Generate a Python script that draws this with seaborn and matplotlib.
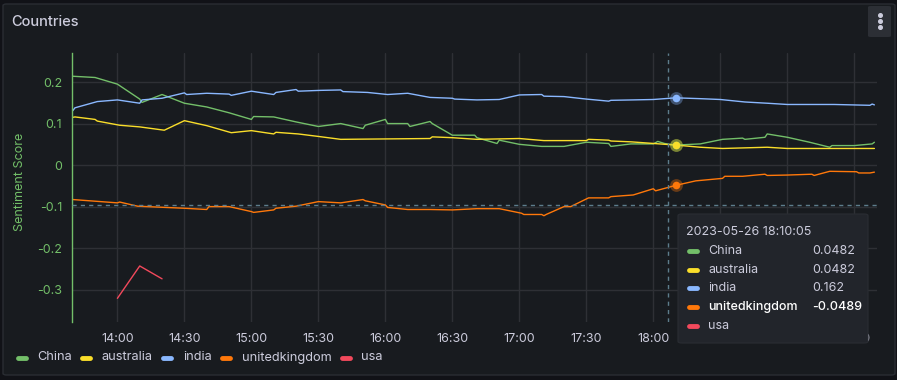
import numpy as np
import pandas as pd
import matplotlib
matplotlib.use("Agg")
import matplotlib.pyplot as plt
import matplotlib.dates as mdates
from matplotlib.patches import FancyBboxPatch
from matplotlib.lines import Line2D
import seaborn as sns

dia = "2023-05-26"
paises = ["China", "australia", "india", "unitedkingdom", "usa"]
colores = ["#73BF69", "#FADE2A", "#8AB8FF", "#FF780A", "#F2495C"]

china_time = ["13:40", "13:50", "14:00", "14:10", "14:11", "14:20", "14:30", "14:40", "14:50", "15:00",
              "15:01", "15:10", "15:20", "15:30", "15:40", "15:50", "15:51", "16:00", "16:01", "16:10",
              "16:11", "16:20", "16:21", "16:30", "16:40", "16:41", "16:50", "16:51", "17:00", "17:10",
              "17:20", "17:30", "17:40", "17:41", "17:50", "18:00", "18:02", "18:05", "18:10", "18:21",
              "18:31", "18:40", "18:41", "18:50", "18:51", "19:00", "19:10", "19:19", "19:20", "19:30",
              "19:38", "19:39"]
china_vals = [0.214, 0.211, 0.195, 0.159, 0.151, 0.170, 0.149, 0.140, 0.126, 0.110,
              0.117, 0.116, 0.104, 0.093, 0.100, 0.088, 0.096, 0.110, 0.100, 0.100,
              0.093, 0.105, 0.100, 0.072, 0.072, 0.066, 0.052, 0.060, 0.050, 0.045,
              0.045, 0.055, 0.052, 0.045, 0.051, 0.051, 0.057, 0.052, 0.0482, 0.051,
              0.062, 0.065, 0.062, 0.067, 0.075, 0.067, 0.055, 0.043, 0.047, 0.047,
              0.051, 0.055]

australia_time = ["13:40", "13:41", "13:50", "13:51", "14:01", "14:10", "14:21", "14:30", "14:40", "14:51",
                  "15:00", "15:10", "15:11", "15:21", "15:30", "15:40", "16:20", "16:21", "16:30", "16:41",
                  "17:00", "17:11", "17:30", "17:31", "17:40", "17:41", "17:50", "18:10", "18:21", "18:31",
                  "18:51", "19:00", "19:39"]
australia_vals = [0.115, 0.116, 0.110, 0.106, 0.096, 0.092, 0.084, 0.107, 0.095, 0.078,
                  0.083, 0.075, 0.079, 0.075, 0.069, 0.062, 0.064, 0.068, 0.066, 0.062,
                  0.064, 0.059, 0.059, 0.062, 0.060, 0.058, 0.056, 0.0482, 0.043, 0.040,
                  0.043, 0.040, 0.040]

india_time = ["13:40", "13:41", "13:51", "14:00", "14:10", "14:11", "14:20", "14:30", "14:31", "14:40",
              "14:50", "14:51", "15:00", "15:10", "15:11", "15:20", "15:21", "15:31", "15:40", "15:41",
              "15:52", "16:01", "16:10", "16:20", "16:30", "16:31", "16:41", "16:51", "17:00", "17:10",
              "17:11", "17:20", "17:30", "17:40", "17:41", "17:51", "18:00", "18:10", "18:21", "18:30",
              "18:41", "18:51", "19:00", "19:21", "19:37", "19:38", "19:39"]
india_vals = [0.131, 0.138, 0.153, 0.157, 0.149, 0.157, 0.161, 0.174, 0.170, 0.173,
              0.171, 0.168, 0.178, 0.170, 0.175, 0.182, 0.178, 0.180, 0.181, 0.177,
              0.175, 0.170, 0.173, 0.163, 0.161, 0.159, 0.157, 0.158, 0.169, 0.170,
              0.166, 0.165, 0.159, 0.154, 0.156, 0.157, 0.158, 0.162, 0.160, 0.158,
              0.152, 0.149, 0.146, 0.146, 0.144, 0.147, 0.145]

uk_time = ["13:40", "14:00", "14:01", "14:09", "14:30", "14:40", "14:41", "14:50", "15:00", "15:01",
           "15:10", "15:11", "15:20", "15:30", "15:40", "15:50", "15:51", "16:00", "16:01", "16:10",
           "16:20", "16:30", "16:41", "16:51", "17:01", "17:02", "17:10", "17:11", "17:12", "17:20",
           "17:23", "17:31", "17:40", "17:41", "17:51", "18:00", "18:01", "18:10", "18:19", "18:31",
           "18:32", "18:40", "18:50", "18:51", "19:00", "19:11", "19:12", "19:19", "19:31", "19:32",
           "19:37", "19:39"]
uk_vals = [-0.083, -0.091, -0.089, -0.099, -0.104, -0.107, -0.100, -0.100, -0.112, -0.114,
           -0.108, -0.104, -0.099, -0.088, -0.091, -0.083, -0.086, -0.096, -0.102, -0.107,
           -0.107, -0.108, -0.105, -0.105, -0.116, -0.119, -0.119, -0.122, -0.119, -0.100,
           -0.100, -0.079, -0.079, -0.076, -0.072, -0.057, -0.062, -0.0489, -0.038, -0.032,
           -0.027, -0.027, -0.022, -0.025, -0.024, -0.022, -0.025, -0.015, -0.016, -0.019,
           -0.019, -0.017]

usa_time = ["14:00", "14:10", "14:20"]
usa_vals = [-0.321, -0.243, -0.274]

# punto del tooltip
hover_time = "18:10:05"
hover_vals = [0.0482, 0.0482, 0.162, -0.0489, None]
cursor_time = "18:06:30"
cursor_val = -0.095

series_time = [china_time, australia_time, india_time, uk_time, usa_time]
series_vals = [china_vals, australia_vals, india_vals, uk_vals, usa_vals]

filas = []
for pais, tiempos, valores in zip(paises, series_time, series_vals):
    for t, v in zip(tiempos, valores):
        filas.append({"time": pd.to_datetime(f"{dia} {t}"), "score": v, "country": pais})
df = pd.DataFrame(filas)

# estilo grafana oscuro
fondo = "#181b1f"
texto = "#ccccdc"
sns.set_theme(style="dark")
plt.rcParams["font.family"] = ["Inter", "DejaVu Sans"]

W, H = 897, 380
fig = plt.figure(figsize=(W / 100, H / 100), dpi=100, facecolor="#111217")

# panel
fig.add_artist(FancyBboxPatch((3 / W, 1 - 375 / H), 892 / W, 371 / H,
                              boxstyle="round,pad=0,rounding_size=0.004",
                              transform=fig.transFigure, facecolor=fondo,
                              edgecolor="#2a2d33", linewidth=1, zorder=-5))
fig.text(11 / W, 1 - 22 / H, "Countries", color=texto, fontsize=10.5,
         fontweight="medium", va="center", ha="left")
fig.add_artist(FancyBboxPatch((868 / W, 1 - 37 / H), 23 / W, 31 / H,
                              boxstyle="round,pad=0,rounding_size=0.003",
                              transform=fig.transFigure, facecolor="#2c2f35",
                              edgecolor="none", zorder=1))
for dy in (15, 21, 27):
    fig.add_artist(Line2D([880 / W], [1 - dy / H], marker="o", markersize=2.6,
                          color=texto, transform=fig.transFigure, zorder=2))

ax = fig.add_axes([72 / W, 1 - 322 / H, 805 / W, 269 / H])
ax.set_facecolor(fondo)
sns.lineplot(data=df, x="time", y="score", hue="country", hue_order=paises,
             palette=dict(zip(paises, colores)), estimator=None, sort=True,
             linewidth=1, legend=False, ax=ax)

ax.set_xlim(pd.to_datetime(f"{dia} 13:39:40"), pd.to_datetime(f"{dia} 19:40:10"))
ax.set_ylim(-0.378, 0.270)
ax.set_yticks([-0.3, -0.2, -0.1, 0, 0.1, 0.2])
ax.set_yticklabels(["-0.3", "-0.2", "-0.1", "0", "0.1", "0.2"])
ax.xaxis.set_major_locator(mdates.MinuteLocator(byminute=[0, 30]))
ax.xaxis.set_major_formatter(mdates.DateFormatter("%H:%M"))
ax.grid(True, color="#2e3035", linewidth=1)
for lado in ["top", "right", "bottom"]:
    ax.spines[lado].set_visible(False)
ax.spines["left"].set_color("#73BF69")
ax.spines["left"].set_linewidth(1)
ax.tick_params(axis="x", length=0, pad=8, labelsize=9, labelcolor=texto)
ax.tick_params(axis="y", length=0, pad=7, labelsize=9, labelcolor="#73BF69")
ax.set_xlabel("")
ax.set_ylabel("Sentiment Score", color="#73BF69", fontsize=9)
ax.yaxis.set_label_coords(-0.057, 0.52)

# cruz del cursor
t_cursor = pd.to_datetime(f"{dia} {cursor_time}")
ax.axvline(t_cursor, color="#5d7d8c", linewidth=1, linestyle=(0, (3, 3)), zorder=5)
ax.axhline(cursor_val, color="#5d7d8c", linewidth=1, linestyle=(0, (3, 3)), zorder=5)

# puntos resaltados
t_hover = pd.to_datetime(f"{dia} {hover_time}")
for v, c in zip(hover_vals, colores):
    if v is None:
        continue
    ax.scatter([t_hover], [v], s=85, color=c, alpha=0.35, linewidths=0, zorder=6)
    ax.scatter([t_hover], [v], s=30, color=c, linewidths=0, zorder=7)

# leyenda (a mano, como en grafana)
renderer = fig.canvas.get_renderer()
x = 15
y_ley = 1 - 357.5 / H
for pais, c in zip(paises, colores):
    fig.add_artist(Line2D([(x + 2.5) / W, (x + 10.5) / W], [y_ley, y_ley], color=c,
                          linewidth=3.5, solid_capstyle="round", transform=fig.transFigure))
    t = fig.text((x + 22) / W, y_ley, pais, color=texto, fontsize=9.2, va="center", ha="left")
    ancho = t.get_window_extent(renderer=renderer).width
    x = x + 22 + ancho + 8

# tooltip
fig.add_artist(FancyBboxPatch((678 / W, 1 - 343 / H), 190 / W, 129 / H,
                              boxstyle="round,pad=0,rounding_size=0.004",
                              transform=fig.transFigure, facecolor="#22252b",
                              edgecolor="#2a2d33", linewidth=0.8, zorder=10))
fig.text(686 / W, 1 - 232 / H, f"{dia} {hover_time}", color=texto, fontsize=9,
         va="center", ha="left", zorder=11)
filas_y = [251, 270, 288, 307, 326]
for pais, c, v, py in zip(paises, colores, hover_vals, filas_y):
    fig.add_artist(Line2D([689 / W, 697 / W], [1 - py / H, 1 - py / H], color=c,
                          linewidth=3.5, solid_capstyle="round",
                          transform=fig.transFigure, zorder=11))
    negrita = pais == "unitedkingdom"
    col = "#ffffff" if negrita else texto
    peso = "medium" if negrita else "normal"
    fig.text(708 / W, 1 - py / H, pais, color=col, fontsize=9, fontweight=peso,
             va="center", ha="left", zorder=11)
    if v is not None:
        etiqueta = f"{v:.3g}"
        fig.text(812 / W, 1 - py / H, etiqueta, color=col, fontsize=9, fontweight=peso,
                 va="center", ha="left", zorder=11)

fig.savefig("out.png", dpi=100, facecolor=fig.get_facecolor())
